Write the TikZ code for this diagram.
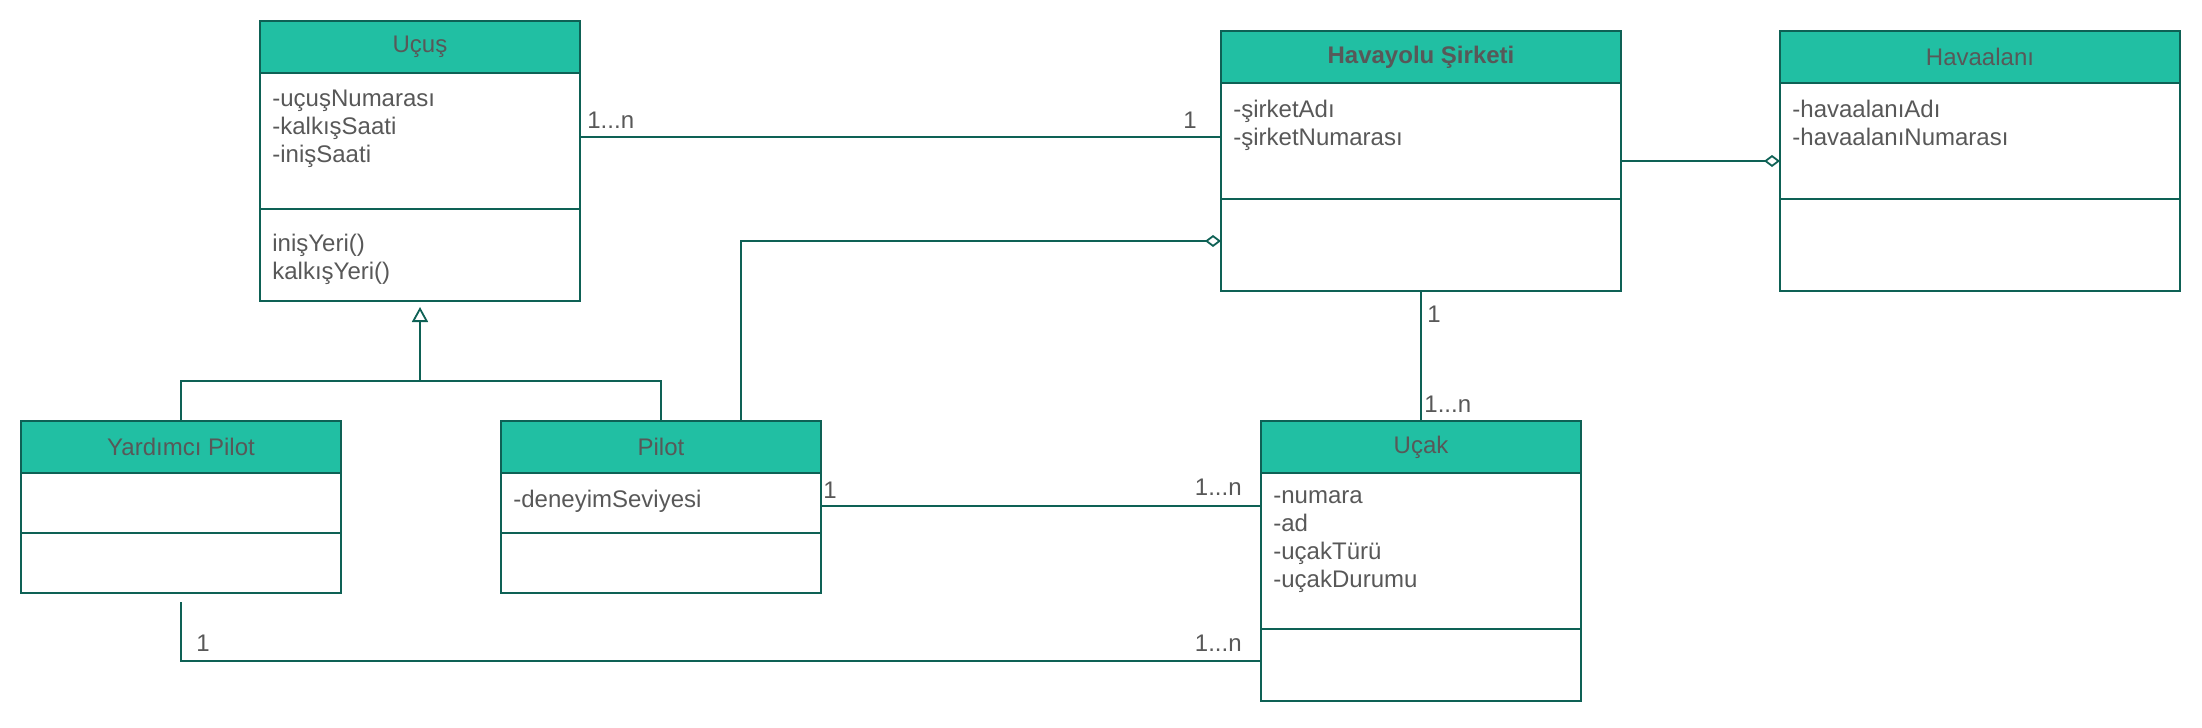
\documentclass[tikz,border=0pt]{standalone}
\usepackage{fontspec}
\setmainfont{Liberation Sans}
\usepackage{tikz}
\usetikzlibrary{arrows.meta}
\definecolor{umlhead}{RGB}{33,191,163}
\definecolor{umlline}{RGB}{14,97,85}
\definecolor{umltext}{RGB}{88,88,88}
\tikzset{
    classhead/.style={draw=umlline, fill=umlhead, line width=1pt, minimum height=26pt, inner sep=0pt, outer sep=0pt, anchor=north west, text=umltext}, % başlık bölmesi
    classbody/.style={draw=umlline, line width=1pt, inner sep=0pt, outer sep=0pt, anchor=north west}, % nitelik ve metot bölmeleri
    attrtext/.style={anchor=north west, align=left, inner sep=0pt, text=umltext},
    link/.style={draw=umlline, line width=0.9pt},
    mult/.style={inner sep=0pt, text=umltext}
}

\begin{document}
\begin{tikzpicture}[x=0.5pt, y=-0.5pt, font=\fontsize{12}{14}\selectfont]
            \useasboundingbox (0,0) rectangle (2202,728);

          \foreach \cname/\cx/\cy/\cw/\ctitle/\cha/\cattr/\cho/\cop in {
              ucus/260/21/160pt/{Uçuş}/68pt/{-uçuşNumarası\\-kalkışSaati\\-inişSaati}/46pt/{inişYeri()\\kalkışYeri()},
              sirket/1221/31/200pt/{\textbf{Havayolu Şirketi}}/58pt/{-şirketAdı\\-şirketNumarası}/46pt/{},
              airport/1780/31/200pt/{Havaalanı}/58pt/{-havaalanıAdı\\-havaalanıNumarası}/46pt/{},
              yp/21/421/160pt/{Yardımcı Pilot}/30pt/{}/30pt/{},
              pilot/501/421/160pt/{Pilot}/30pt/{-deneyimSeviyesi}/30pt/{},
              ucak/1261/421/160pt/{Uçak}/78pt/{-numara\\-ad\\-uçakTürü\\-uçakDurumu}/36pt/{}
          } {
              \node[classhead, minimum width=\cw] (\cname) at (\cx,\cy) {\ctitle};
              \node[classbody, minimum width=\cw, minimum height=\cha] (\cname-attr) at (\cname.south west) {};
              \node[classbody, minimum width=\cw, minimum height=\cho] (\cname-op) at (\cname-attr.south west) {};

              \node[attrtext] (\cname-attrtext) at ([shift={(12,17)}]\cname-attr.north west) {\cattr};
              \node[attrtext] (\cname-optext) at ([shift={(12,25)}]\cname-op.north west) {\cop};
          }

            % Uçuş -- Havayolu Şirketi
            \draw[link] ([yshift=2pt]ucus-attr.east) coordinate (fl-a) -- (fl-a -| sirket-attr.west) coordinate (fl-b);
            \node[mult, anchor=base west] (fl-m1) at ([shift={(7,-9)}]fl-a) {1...n};
            \node[mult, anchor=base east] (fl-m2) at ([shift={(-24,-9)}]fl-b) {1};

            % Havayolu Şirketi -- Uçak
            \draw[link] (sirket-op.south) -- (ucak.north);
            \node[mult, anchor=base west] (su-m1) at ([shift={(6,31)}]sirket-op.south) {1};
            \node[mult, anchor=base west] (su-m2) at ([shift={(3,-9)}]ucak.north) {1...n};

            % Pilot -- Uçak
            \draw[link] ([yshift=-1.5pt]pilot-attr.east) coordinate (pu-a) -- (pu-a -| ucak-attr.west) coordinate (pu-b);
            \node[mult, anchor=base west] (pu-m1) at ([shift={(2,-8)}]pu-a) {1};
            \node[mult, anchor=base east] (pu-m2) at ([shift={(-19,-11)}]pu-b) {1...n};

            % Yardımcı Pilot -- Uçak
            \draw[link] ([yshift=-4.5pt]yp-op.south) coordinate (yu-a) |- ([yshift=2pt]ucak-op.west) coordinate (yu-b);
            \node[mult, anchor=base west] (yu-m1) at ([shift={(15,-10)}]yu-a |- yu-b) {1};
            \node[mult, anchor=base east] (yu-m2) at ([shift={(-19,-10)}]yu-b) {1...n};

            % kalıtım
            \coordinate (gen) at ([yshift=20pt]pilot.north -| ucus-op.south);
            \draw[link] (yp.north) |- (gen) -| (pilot.north);
            \draw[link, -{Triangle[open, length=7.5pt, width=8pt, fill=white]}, shorten >=3pt] (gen) -- (ucus-op.south);

            % toplama ilişkileri
            \draw[link, -{Diamond[open, length=8pt, width=6pt, fill=white]}] ([xshift=40pt]pilot.north) |- ([yshift=2pt]sirket-op.west);
            \draw[link, -{Diamond[open, length=8pt, width=6pt, fill=white]}] ([yshift=-10pt]sirket-attr.east) coordinate (sa-a) -- (sa-a -| airport-attr.west);

        \end{tikzpicture}
\end{document}
